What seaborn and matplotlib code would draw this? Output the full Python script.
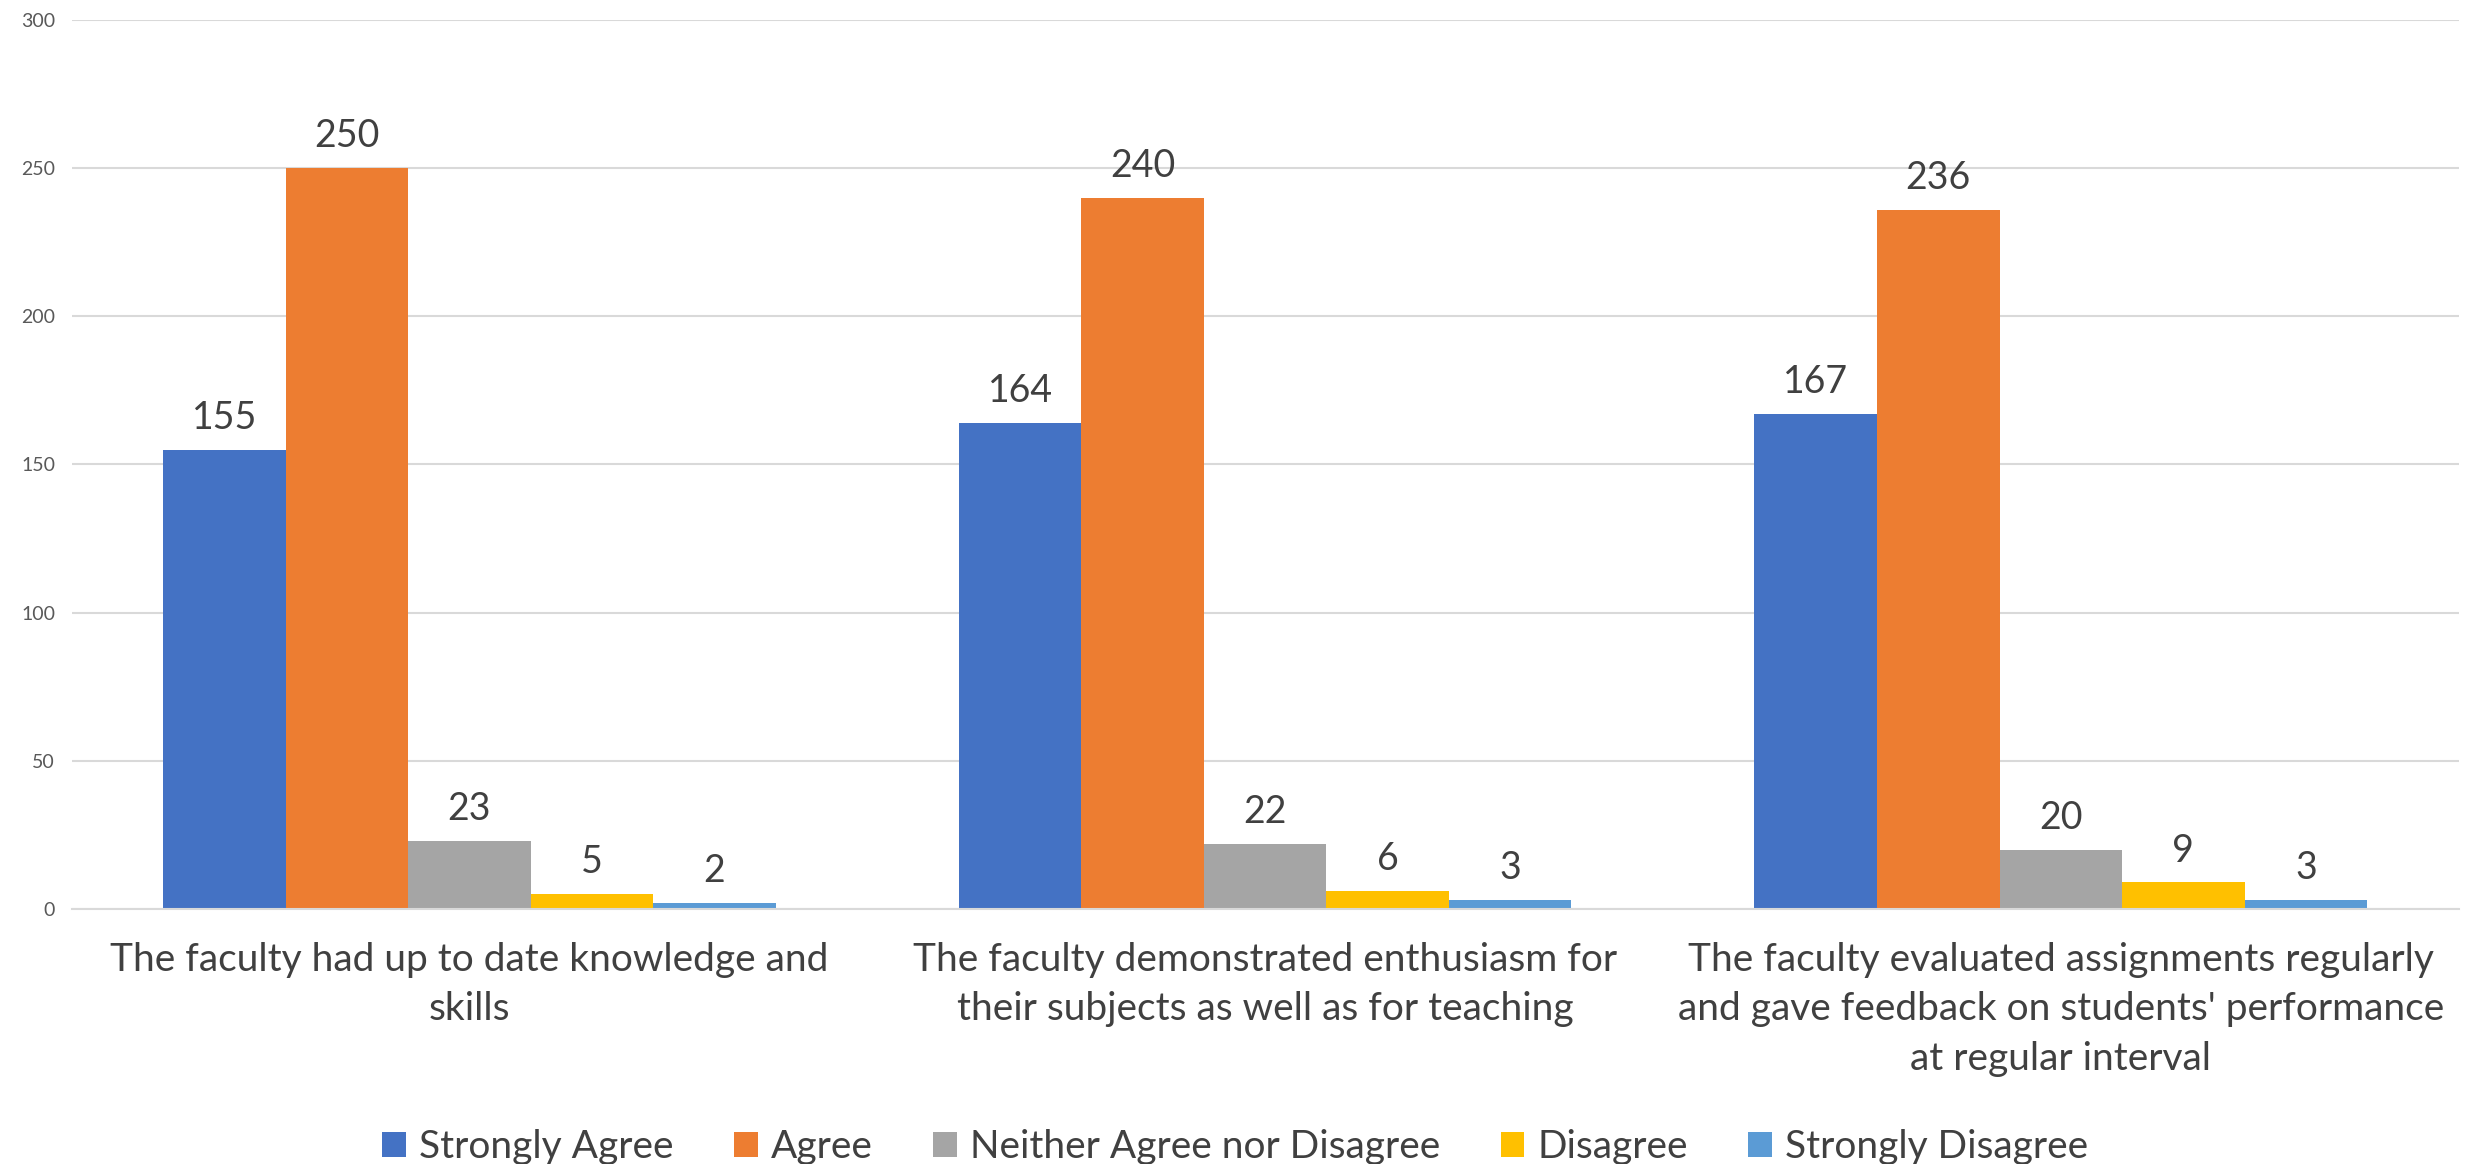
import matplotlib
matplotlib.use("Agg")
import matplotlib.pyplot as plt
import seaborn as sns
import pandas as pd
from matplotlib.patches import Patch

categories = [
    "The faculty had up to date knowledge and\nskills",
    "The faculty demonstrated enthusiasm for\ntheir subjects as well as for teaching",
    "The faculty evaluated assignments regularly\nand gave feedback on students' performance\nat regular interval",
]
responses = ["Strongly Agree", "Agree", "Neither Agree nor Disagree", "Disagree", "Strongly Disagree"]
strongly_agree = [155, 164, 167]
agree = [250, 240, 236]
neither = [23, 22, 20]
disagree = [5, 6, 9]
strongly_disagree = [2, 3, 3]
colors = ["#4472C4", "#ED7D31", "#A5A5A5", "#FFC000", "#5B9BD5"]
y_ticks = [0, 50, 100, 150, 200, 250, 300]

series = [strongly_agree, agree, neither, disagree, strongly_disagree]
rows = []
for resp, vals in zip(responses, series):
    for cat, v in zip(categories, vals):
        rows.append({"Category": cat, "Response": resp, "Count": v})
df = pd.DataFrame(rows)

sns.set_theme(style="white")
plt.rcParams["font.family"] = ["Lato", "DejaVu Sans"]

fig = plt.figure(figsize=(24.71, 11.64), dpi=100)
ax = fig.add_axes([0.029, 0.219, 0.966, 0.764])

sns.barplot(data=df, x="Category", y="Count", hue="Response", order=categories,
            hue_order=responses, palette=colors, width=0.77, gap=0, dodge=True,
            saturation=1, errorbar=None, legend=False, ax=ax, edgecolor="none")

for cont in ax.containers:
    ax.bar_label(cont, padding=10, fontsize=27, color="#404040")

ax.set_ylim(0, 300)
ax.set_xlim(-0.5, 2.5)
ax.set_yticks(y_ticks)
ax.set_yticklabels([str(t) for t in y_ticks], fontsize=14, color="#595959")
ax.yaxis.grid(True, color="#D9D9D9", linewidth=1.5)
ax.set_axisbelow(True)
ax.tick_params(axis="x", labelsize=28, labelcolor="#404040", pad=24, length=0)
for lbl in ax.get_xticklabels():
    lbl.set_linespacing(1.45)
ax.tick_params(axis="y", length=0, pad=12)
ax.set_xlabel("")
ax.set_ylabel("")
for s in ["top", "right", "left"]:
    ax.spines[s].set_visible(False)
ax.spines["bottom"].set_color("#D9D9D9")
ax.spines["bottom"].set_linewidth(1.5)

handles = [Patch(facecolor=c, edgecolor="none", label=r) for c, r in zip(colors, responses)]
fig.legend(handles=handles, loc="center", bbox_to_anchor=(0.5, 1 - 1147 / 1164), ncol=5,
           frameon=False, fontsize=28, labelcolor="#404040", handlelength=0.6,
           handleheight=0.6, handletextpad=0.35, columnspacing=1.55)

fig.savefig("out.png", dpi=100)
